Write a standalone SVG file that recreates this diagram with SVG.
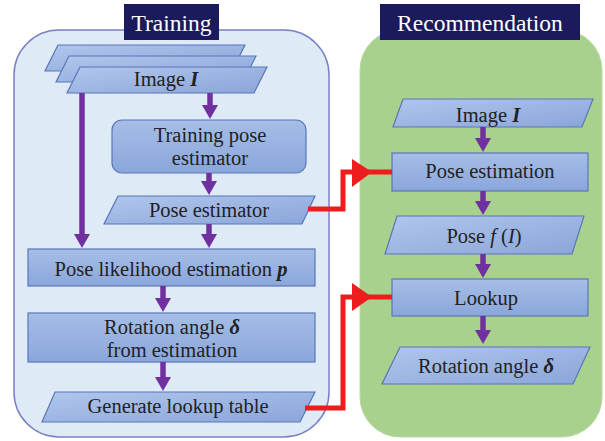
<svg xmlns="http://www.w3.org/2000/svg" width="605" height="441" viewBox="0 0 605 441" font-family="'Liberation Serif', 'DejaVu Serif', serif">
  <defs>
    <linearGradient id="boxFill" x1="0" y1="0" x2="0" y2="1">
      <stop offset="0" stop-color="#a6bee7"/>
      <stop offset="1" stop-color="#8aa6da"/>
    </linearGradient>
    <linearGradient id="dataFill" x1="0" y1="0" x2="1" y2="1">
      <stop offset="0" stop-color="#b0c6ec"/>
      <stop offset="1" stop-color="#8aa5d9"/>
    </linearGradient>
    <marker id="purpleHead" markerUnits="userSpaceOnUse" viewBox="0 0 14 16" markerWidth="14" markerHeight="16" refX="6" refY="8" orient="auto">
      <path d="M0,0 L14,8 L0,16 z" fill="#7030a0"/>
    </marker>
    <style>
      .panel-train { fill: #deebf7; stroke: #7a80c5; stroke-width: 1.5; }
      .panel-rec { fill: #a9d18e; stroke: #b9d9a3; stroke-width: 1; }
      .tag { fill: #1b1a5c; }
      text { font-family: 'Liberation Serif', 'DejaVu Serif', serif; }
      .tag-text { font-size: 23.5px; fill: #ffffff; text-anchor: middle; }
      .box { fill: url(#boxFill); stroke: #5a76b8; stroke-width: 1.2; }
      .data { fill: url(#dataFill); stroke: #5a76b8; stroke-width: 1.2; }
      .label { font-size: 20.5px; fill: #222222; text-anchor: middle; }
      .sym { font-weight: bold; font-style: italic; }
      .it { font-style: italic; }
      .flow { fill: none; stroke: #7030a0; stroke-width: 5.5; marker-end: url(#purpleHead); }
      .link { fill: none; stroke: #ee1c1c; stroke-width: 5; }
      .link-head { fill: #ee1c1c; }
    </style>
  </defs>

  <!-- panels -->
  <g id="training-panel">
    <rect class="panel-train" x="14" y="30" width="315" height="407" rx="45"/>
    <rect class="tag" x="124" y="4" width="95" height="36"/>
    <text class="tag-text" x="171.5" y="31">Training</text>
  </g>
  <g id="recommendation-panel">
    <rect class="panel-rec" x="360" y="30" width="242" height="407" rx="40"/>
    <rect class="tag" x="380" y="4" width="200" height="36"/>
    <text class="tag-text" x="480" y="31">Recommendation</text>
  </g>

  <!-- training nodes -->
  <g id="train-images">
    <polygon class="data" points="58,45 245,45 232,71 45,71"/>
    <polygon class="data" points="69,56 256,56 243,82 56,82"/>
    <polygon class="data" points="80,67 267,67 254,93 67,93"/>
    <text class="label" x="166" y="86">Image <tspan class="sym">I</tspan></text>
  </g>
  <g id="train-pose-estimator">
    <rect class="box" x="112" y="120" width="194" height="53" rx="10"/>
    <text class="label" x="210" y="142">Training pose</text>
    <text class="label" x="210" y="165">estimator</text>
  </g>
  <g id="pose-estimator">
    <polygon class="data" points="118,196 315,196 302,224 104,224"/>
    <text class="label" x="209" y="217">Pose estimator</text>
  </g>
  <g id="pose-likelihood">
    <rect class="box" x="28" y="249" width="287" height="37"/>
    <text class="label" x="171" y="276">Pose likelihood estimation <tspan class="sym">p</tspan></text>
  </g>
  <g id="rotation-from-estimation">
    <rect class="box" x="28" y="313" width="287" height="49"/>
    <text class="label" x="172" y="334">Rotation angle <tspan class="sym">δ</tspan></text>
    <text class="label" x="172" y="357">from estimation</text>
  </g>
  <g id="generate-lookup">
    <polygon class="data" points="55,392 315,392 300,422 42,422"/>
    <text class="label" x="178" y="413">Generate lookup table</text>
  </g>

  <!-- recommendation nodes -->
  <g id="rec-image">
    <polygon class="data" points="403,99 593,99 582,127 393,127"/>
    <text class="label" x="488" y="122">Image <tspan class="sym">I</tspan></text>
  </g>
  <g id="rec-pose-estimation">
    <rect class="box" x="392" y="153" width="196" height="38"/>
    <text class="label" x="490" y="178">Pose estimation</text>
  </g>
  <g id="rec-pose">
    <polygon class="data" points="397,216 584,216 572,254 385,254"/>
    <text class="label" x="484" y="243">Pose <tspan class="it">f</tspan> (<tspan class="it">I</tspan>)</text>
  </g>
  <g id="rec-lookup">
    <rect class="box" x="392" y="279" width="196" height="37"/>
    <text class="label" x="486" y="305">Lookup</text>
  </g>
  <g id="rec-rotation">
    <polygon class="data" points="400,347 590,347 573,384 382,384"/>
    <text class="label" x="486" y="373">Rotation angle <tspan class="sym">δ</tspan></text>
  </g>

  <!-- connectors -->
  <g id="connectors">
    <line class="flow" x1="210" y1="93" x2="210" y2="111"/>
    <line class="flow" x1="82" y1="93" x2="82" y2="240"/>
    <line class="flow" x1="209" y1="173" x2="209" y2="187"/>
    <line class="flow" x1="209" y1="224" x2="209" y2="240"/>
    <line class="flow" x1="163" y1="286" x2="163" y2="304"/>
    <line class="flow" x1="163" y1="362" x2="163" y2="383"/>

    <line class="flow" x1="483" y1="127" x2="483" y2="144"/>
    <line class="flow" x1="483" y1="191" x2="483" y2="207"/>
    <line class="flow" x1="483" y1="254" x2="483" y2="270"/>
    <line class="flow" x1="483" y1="316" x2="483" y2="336"/>

    <path class="link" d="M308,209 H343 V172 H392"/>
    <polygon class="link-head" points="352,159 372,172 352,187"/>
    <path class="link" d="M305,408 H343 V297 H392"/>
    <polygon class="link-head" points="352,283 372,297 352,311"/>
  </g>
</svg>
